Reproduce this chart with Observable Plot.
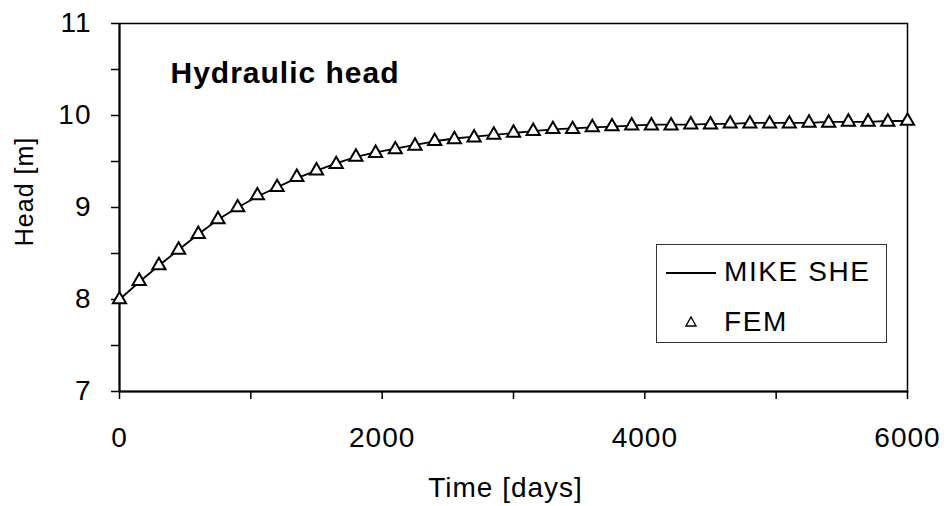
<!DOCTYPE html>
<html>
<head>
<meta charset="utf-8">
<script src="https://cdn.jsdelivr.net/npm/d3@7"></script>
<script src="https://cdn.jsdelivr.net/npm/@observablehq/plot@0.6"></script>
<style>
  body { margin: 0; background: #fff; }
  #wrap { position: relative; width: 944px; height: 506px; }
  #chart text { letter-spacing: 1px; }
  #legend { position: absolute; left: 656px; top: 244px; }
  #legend text { font-family: "Liberation Sans", Arial, sans-serif; font-size: 28px; letter-spacing: 1.6px; }
</style>
</head>
<body>
<div id="wrap"><div id="chart"></div>
<svg id="legend" width="232" height="100">
  <rect x="0.5" y="0.5" width="230" height="98" fill="#fff" stroke="#333" stroke-width="1"/>
  <line x1="10" x2="60" y1="29" y2="29" stroke="#000" stroke-width="1.8"/>
  <text x="68" y="37">MIKE SHE</text>
  <path d="M35,73 L40,82 L30,82 Z" fill="#fff" stroke="#000" stroke-width="1.4"/>
  <text x="68" y="87">FEM</text>
</svg>
</div>
<script>
// Time [days]
const times = [0, 150, 300, 450, 600, 750, 900, 1050, 1200, 1350, 1500, 1650, 1800, 1950,
  2100, 2250, 2400, 2550, 2700, 2850, 3000, 3150, 3300, 3450, 3600, 3750, 3900, 4050,
  4200, 4350, 4500, 4650, 4800, 4950, 5100, 5250, 5400, 5550, 5700, 5850, 6000];
// FEM head [m]
const femHead = [8.00, 8.20, 8.37, 8.54, 8.71, 8.87, 9.00, 9.13, 9.22, 9.33, 9.40, 9.47, 9.55, 9.59,
  9.63, 9.67, 9.72, 9.74, 9.76, 9.79, 9.81, 9.83, 9.85, 9.85, 9.87, 9.88, 9.89, 9.89,
  9.89, 9.90, 9.90, 9.91, 9.91, 9.91, 9.91, 9.92, 9.92, 9.93, 9.93, 9.93, 9.94];
// MIKE SHE head [m]
const mikeSheHead = [8.00, 8.19, 8.37, 8.54, 8.71, 8.87, 9.00, 9.12, 9.22, 9.32, 9.40, 9.48, 9.55, 9.60,
  9.64, 9.68, 9.72, 9.75, 9.77, 9.79, 9.81, 9.83, 9.85, 9.86, 9.87, 9.88, 9.89, 9.90,
  9.90, 9.90, 9.91, 9.91, 9.92, 9.92, 9.92, 9.92, 9.93, 9.93, 9.93, 9.94, 9.94];

const xTicks = [0, 1000, 2000, 3000, 4000, 5000, 6000];
const xLabels = [0, 2000, 4000, 6000];
const yTicks = [7, 7.5, 8, 8.5, 9, 9.5, 10, 10.5, 11];
const yLabels = [7, 8, 9, 10, 11];

const fem = times.map((t, i) => ({t, h: femHead[i]}));
const mike = times.map((t, i) => ({t, h: mikeSheHead[i]}));

const chart = Plot.plot({
  width: 944,
  height: 506,
  marginLeft: 119,
  marginRight: 37,
  marginTop: 23,
  marginBottom: 115,
  style: {fontFamily: "'Liberation Sans', Arial, sans-serif", fontSize: "28px", color: "#000", background: "#fff"},
  x: {domain: [0, 6000]},
  y: {domain: [7, 11]},
  marks: [
    Plot.frame({stroke: "#000", strokeWidth: 1.5}),
    Plot.axisY(yTicks, {tickSize: 8, strokeWidth: 1.5, label: null, text: null}),
    Plot.axisX(xTicks, {tickSize: 8, strokeWidth: 1.5, label: null, text: null}),
    Plot.text(yLabels, {y: d => d, text: d => String(d), frameAnchor: "left", textAnchor: "end",
      lineAnchor: "middle", dx: -28, fontSize: 28}),
    Plot.text(xLabels, {x: d => d, text: d => String(d), frameAnchor: "bottom", textAnchor: "middle",
      lineAnchor: "top", dy: 36, fontSize: 28}),
    Plot.ruleX([0], {stroke: "#000", strokeWidth: 2}),
    Plot.ruleY([7], {stroke: "#000", strokeWidth: 2}),
    Plot.line(mike, {x: "t", y: "h", stroke: "#000", strokeWidth: 1.8}),
    Plot.dot(fem, {x: "t", y: "h", symbol: "triangle", r: 4.9, fill: "#fff", stroke: "#000", strokeWidth: 2}),
    Plot.text(["Hydraulic head"], {text: d => d, frameAnchor: "top-left", textAnchor: "start", lineAnchor: "top",
      dx: 51, dy: 38, fontWeight: "bold", fontSize: 30}),
    Plot.text(["Time [days]"], {text: d => d, frameAnchor: "bottom", textAnchor: "middle", lineAnchor: "top",
      dx: -8, dy: 86}),
    Plot.text(["Head [m]"], {text: d => d, frameAnchor: "left", textAnchor: "middle", lineAnchor: "middle",
      rotate: -90, dx: -95, dy: -16, fontSize: 25})
  ]
});
document.getElementById("chart").appendChild(chart);
</script>
</body>
</html>
